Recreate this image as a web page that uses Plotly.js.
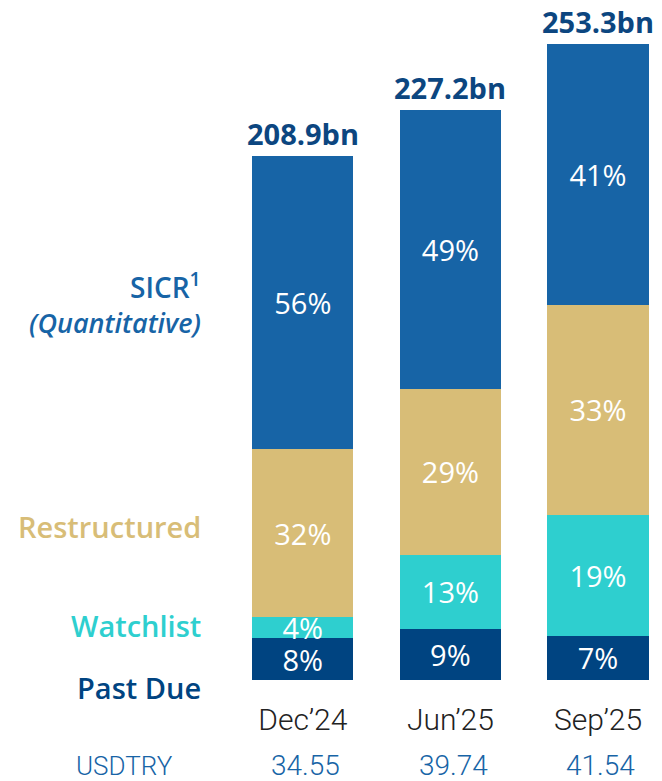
<!DOCTYPE html>
<html>
<head>
<meta charset="utf-8">
<script src="https://cdn.plot.ly/plotly-3.0.1.min.js"></script>
<style>html,body{margin:0;padding:0;background:#fff;}#chart{width:662px;height:781px;}</style>
</head>
<body>
<div id="chart"></div>
<script>
// ---- data ----
const periods = ["Dec’24", "Jun’25", "Sep’25"];
const totals = [208.9, 227.2, 253.3];           // bn
const pastDuePct = [8, 9, 7];
const watchlistPct = [4, 13, 19];
const restructuredPct = [32, 29, 33];
const sicrPct = [56, 49, 41];
const usdtry = ["34.55", "39.74", "41.54"];

// ---- styles ----
const C_SICR = "#1764a6", C_RES = "#d8bd77", C_WL = "#2ecfcf", C_PD = "#004481", C_TOT = "#0c4680";
const FONT = "'Open Sans', sans-serif";
const LIGHT = "Roboto, 'Open Sans', sans-serif";

function seg(name, pct, color) {
  return {
    type: "bar", name: name, x: periods,
    y: pct.map((p, i) => p * totals[i] / 100),
    text: pct.map(p => p + "%"),
    textposition: "inside", insidetextanchor: "middle", constraintext: "none",
    textfont: {color: "#ffffff", size: 29, family: FONT, weight: 500},
    marker: {color: color, line: {width: 0}},
    hoverinfo: "skip"
  };
}
const traces = [
  seg("Past Due", pastDuePct, C_PD),
  seg("Watchlist", watchlistPct, C_WL),
  seg("Restructured", restructuredPct, C_RES),
  seg("SICR", sicrPct, C_SICR)
];

const annotations = [];
totals.forEach((t, i) => annotations.push({
  x: periods[i], y: t, xref: "x", yref: "y", yanchor: "bottom", yshift: 1,
  text: t.toFixed(1) + "bn", showarrow: false,
  font: {family: FONT, size: 29, color: C_TOT, weight: 700}
}));
usdtry.forEach((v, i) => annotations.push({
  x: periods[i], y: -0.13, xref: "x", yref: "paper", yanchor: "middle", xshift: 3,
  text: v, showarrow: false, font: {family: LIGHT, size: 28, color: C_SICR, weight: 300}
}));
const leftLabels = [
  {text: "SICR<sup>1</sup>", y: 0.597, color: C_SICR, style: "normal", size: 28},
  {text: "(Quantitative)", y: 0.542, color: C_SICR, style: "italic", size: 27},
  {text: "Restructured", y: 0.232, color: C_RES, style: "normal", size: 29},
  {text: "Watchlist", y: 0.083, color: C_WL, style: "normal", size: 29},
  {text: "Past Due", y: -0.012, color: C_PD, style: "normal", size: 29}
];
leftLabels.forEach(l => annotations.push({
  x: 0, y: l.y, xref: "paper", yref: "paper", xanchor: "right", yanchor: "middle", xshift: -26,
  text: l.text, showarrow: false,
  font: {family: FONT, size: l.size, color: l.color, weight: 600, style: l.style}
}));
annotations.push({
  x: 0, y: -0.13, xref: "paper", yref: "paper", xanchor: "right", yanchor: "middle", xshift: -54,
  text: "USDTRY", showarrow: false, font: {family: LIGHT, size: 26, color: C_SICR, weight: 300}
});

const layout = {
  width: 662, height: 781,
  margin: {l: 229, r: 5, t: 20, b: 101},
  paper_bgcolor: "#ffffff", plot_bgcolor: "#ffffff",
  barmode: "stack", bargap: 0.315,
  showlegend: false,
  xaxis: {
    type: "category", range: [-0.5, 2.4], showgrid: false, zeroline: false, showline: false,
    ticks: "", ticklabelstandoff: 19,
    tickfont: {family: LIGHT, size: 30, color: "#222222", weight: 300}
  },
  yaxis: {range: [0, 263], visible: false, showgrid: false, zeroline: false},
  annotations: annotations
};
Plotly.newPlot("chart", traces, layout, {staticPlot: true, displayModeBar: false});
</script>
</body>
</html>
